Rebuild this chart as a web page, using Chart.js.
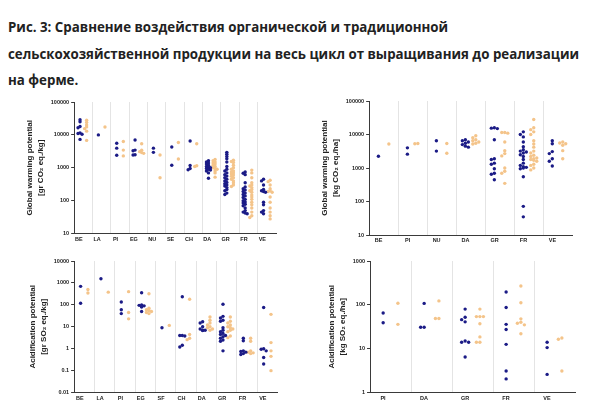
<!DOCTYPE html>
<html><head><meta charset="utf-8">
<script src="https://cdn.jsdelivr.net/npm/chart.js@4/dist/chart.umd.min.js"></script>
<style>
html,body{margin:0;padding:0;background:#fff;width:599px;height:410px;overflow:hidden;}
#title{position:absolute;left:8px;top:14px;width:590px;font-family:"Open Sans",sans-serif;font-weight:700;font-size:13.3px;line-height:26.5px;color:#222;}
.p{position:absolute;}
</style></head><body>
<div id="title">Рис. 3: Сравнение воздействия органической и традиционной<br>сельскохозяйственной продукции на весь цикл от выращивания до реализации<br>на ферме.</div>
<canvas id="c1" class="p" width="300" height="158" style="left:0;top:92px"></canvas>
<canvas id="c2" class="p" width="299" height="158" style="left:300px;top:92px"></canvas>
<canvas id="c3" class="p" width="300" height="160" style="left:0;top:250px"></canvas>
<canvas id="c4" class="p" width="299" height="160" style="left:300px;top:250px"></canvas>
<script>
// ---- Panel 1: Global warming potential per kg ----
const cats1 = ['BE','LA','PI','EG','NU','SE','CH','DA','GR','FR','VE'];
const ticks1 = [10,100,1000,10000,100000];
const org1 = [
 [29000,25000,18000,16500,11500,11000,10500,7300],
 [10000],
 [5600,3950,2400],
 [7000,3450,3300,2500,2450],
 [3950,2950],
 [4300,1200],
 [6500,1180,950,870],
 [1650,1500,1400,1300,1200,1100,1050,1000,950,900,850,800,700,480],
 [2950,2600,2200,1900,1500,1100,900,800,700,620,560,500,450,400,360,330,300,280,250,220,200,170,155],
 [750,680,620,350,260,230,210,190,170,155,140,125,110,100,92,85,78,70,60,50,45,42,40],
 [450,400,300,220,200,190,180,90,75,50,45,40]
];
const conv1 = [
 [28000,24000,20000,17500,15500,13000,6800],
 [17300],
 [6300,3450,2300],
 [5400,3400,3100,2900,2750],
 [2450,500],
 [5900,1850],
 [5400,1150,1100],
 [1800,1650,1500,1400,1300,1200,1100,1000,950,900,800,700,520],
 [1700,1550,1450,1200,1000,900,800,750,700,650,600,550,500,450,400,350,300,270],
 [850,700,500,350,300,280,250,220,200,180,150,130,110,90,75,60,45,35,31],
 [420,380,300,230,200,190,180,130,90,60,45,35,28]
];
// ---- Panel 2: Global warming potential per ha ----
const cats2 = ['BE','PI','NU','DA','GR','FR','VE'];
const ticks2 = [10,100,1000,10000,100000];
const org2 = [
 [2250],
 [4000,2600],
 [6500,3200],
 [7000,6500,6000,5500,5000,4500,4200],
 [16000,15500,15000,7000,1900,1800,1400,1300,950,700,650,450],
 [12000,10000,8500,6000,4300,3500,3200,3000,2800,2500,2200,1800,1400,1200,1100,1050,1000,950,550,72,35],
 [6500,5300,3100,2700,1900,1600,1150]
];
const conv2 = [
 [5200],
 [5400,5300],
 [5400,2750],
 [9200,8000,7000,6500,6000,5500,5200],
 [11500,11500,11000,6000,3300,2700,2300,1000,800,700,350],
 [28000,16000,14000,12000,10000,6500,5200,4200,3200,2800,2400,2200,2000,1900,1800,1700,1600,1300,1200,1000,880],
 [6000,5600,5300,4800,3300,1900]
];
// ---- Panel 3: Acidification potential per kg ----
const cats3 = ['BE','LA','PI','EG','SF','CH','DA','GR','FR','VE'];
const ticks3 = [0.01,0.1,1,10,100,1000,10000];
const org3 = [
 [700,118],
 [1550],
 [135,60,40],
 [355,100,95,90,85,80,50],
 [9.1],
 [235,4,4,3.8,1.45,1.2],
 [17,15,10,8,7,7,6.8],
 [106,30,25,20,18,9,7,6,5,4.5,4,3.5,3,2.5,2.2,0.8],
 [3,2.3,0.8,0.75,0.7,0.6,0.55],
 [76,1.0,0.95,0.8,0.4,0.2]
];
const conv3 = [
 [500,350],
 [380],
 [400,45,23],
 [320,70,60,55,50,45,40],
 [11.6],
 [180,4.5,3,2.6],
 [28,20,15,12,10,9,8,7],
 [28,18,15,12,10,9,8,7,6,3.8,3.2],
 [3,2.2,0.8,0.7,0.65,0.6],
 [37,1.9,0.8,0.45,0.1]
];
// ---- Panel 4: Acidification potential per ha ----
const cats4 = ['PI','DA','GR','FR','VE'];
const ticks4 = [1,10,100,1000];
const org4 = [
 [65,39],
 [108,31,31],
 [80,52,46,41,15,14,14,6.5],
 [196,87,36,27.5,12.6,3.1,2.05],
 [14,10.6,2.6]
];
const conv4 = [
 [109,36],
 [123,49,49],
 [80,54,54,54,37,18.6,14,14],
 [270,112,48,40,38,35,22],
 [17.6,16.5,3.1]
];

const BLUE = '#1b1b86';
const ORANGE = '#f4c48a';
const AXIS = '#3a3a3a';
const SIDE = 0.18;
const FONT = '"Liberation Sans", Arial, sans-serif';

function initial(series, sign){
  const pts = [];
  series.forEach((vals, ci) => vals.forEach(v => pts.push({x: ci + sign*SIDE, y: v})));
  return pts;
}

function makeChart(id, cats, decades, org, conv, titleLines, pad, labelOffset, step){
  const n = cats.length;
  const chart = new Chart(document.getElementById(id), {
    type: 'scatter',
    data: { datasets: [
      {data: initial(org, -1), backgroundColor: BLUE, borderWidth: 0, pointRadius: 1.7, pointHoverRadius: 1.7},
      {data: initial(conv, 1), backgroundColor: ORANGE, borderWidth: 0, pointRadius: 1.7, pointHoverRadius: 1.7}
    ]},
    options: {
      responsive: false, animation: false,
      layout: {padding: pad},
      plugins: {legend: {display: false}, tooltip: {enabled: false}},
      scales: {
        x: {
          type: 'linear', min: -0.5, max: n - 0.5,
          afterBuildTicks: s => { s.ticks = cats.map((c, i) => ({value: i})); },
          grid: {offset: true, drawTicks: false,
                 color: ctx => (ctx.index >= 1 && ctx.index < n) ? '#e4e4e4' : 'rgba(0,0,0,0)', lineWidth: 1},
          border: {color: AXIS, width: 1},
          ticks: {autoSkip: false, maxRotation: 0, labelOffset: labelOffset, padding: 2.4,
                  color: '#222', font: {family: FONT, size: 5.5, weight: 'bold'},
                  callback: v => cats[Math.round(v)]}
        },
        y: {
          type: 'logarithmic', min: decades[0], max: decades[decades.length - 1],
          afterBuildTicks: s => { s.ticks = decades.map(v => ({value: v})); },
          grid: {drawOnChartArea: false, drawTicks: true, tickLength: 3, color: AXIS},
          border: {color: AXIS, width: 1},
          ticks: {autoSkip: false, padding: 2, color: '#222',
                  font: {family: FONT, size: 5.5, weight: 'bold'},
                  callback: v => String(v)},
          title: {display: true, text: titleLines, color: '#222', padding: {top: 2, bottom: 3},
                  font: {family: FONT, size: 8, weight: 'bold', lineHeight: 1.3}}
        }
      }
    }
  });
  // simple beeswarm spreading using the chart's own scales
  const xs = chart.scales.x, ys = chart.scales.y;
  const unit = xs.getPixelForValue(1) - xs.getPixelForValue(0);
  [org, conv].forEach((series, si) => {
    const sign = si === 0 ? -1 : 1;
    const pts = [];
    series.forEach((vals, ci) => {
      const center = ci + sign*SIDE;
      const placed = [];
      vals.slice().sort((a, b) => b - a).forEach(v => {
        const py = ys.getPixelForValue(v);
        let chosen = 0;
        for (const k of [0, -1, 1]) {
          const px = k*step;
          let d = Infinity;
          placed.forEach(p => { d = Math.min(d, Math.hypot(p.px - px, p.py - py)); });
          if (d >= step*0.9) { chosen = k; break; }
        }
        placed.push({px: chosen*step, py});
        pts.push({x: center + chosen*step/unit, y: v});
      });
    });
    chart.data.datasets[si].data = pts;
  });
  chart.update('none');
  return chart;
}

makeChart('c1', cats1, ticks1, org1, conv1, ['Global warming potential', '[gr CO₂ eq./kg]'],
  {left: 23, right: 24, top: 10, bottom: 5}, -4.5, 2);
makeChart('c2', cats2, ticks2, org2, conv2, ['Global warming potential', '[kg CO₂ eq./ha]'],
  {left: 18, right: 27, top: 9, bottom: 3.5}, -5, 3);
makeChart('c3', cats3, ticks3, org3, conv3, ['Acidification potential', '[gr SO₂ eq./kg]'],
  {left: 26, right: 22.5, top: 11, bottom: 6}, -4.5, 2.5);
makeChart('c4', cats4, ticks4, org4, conv4, ['Acidification potential', '[kg SO₂ eq./ha]'],
  {left: 25, right: 24, top: 11, bottom: 6}, -7.5, 3.5);
</script>
</body></html>
